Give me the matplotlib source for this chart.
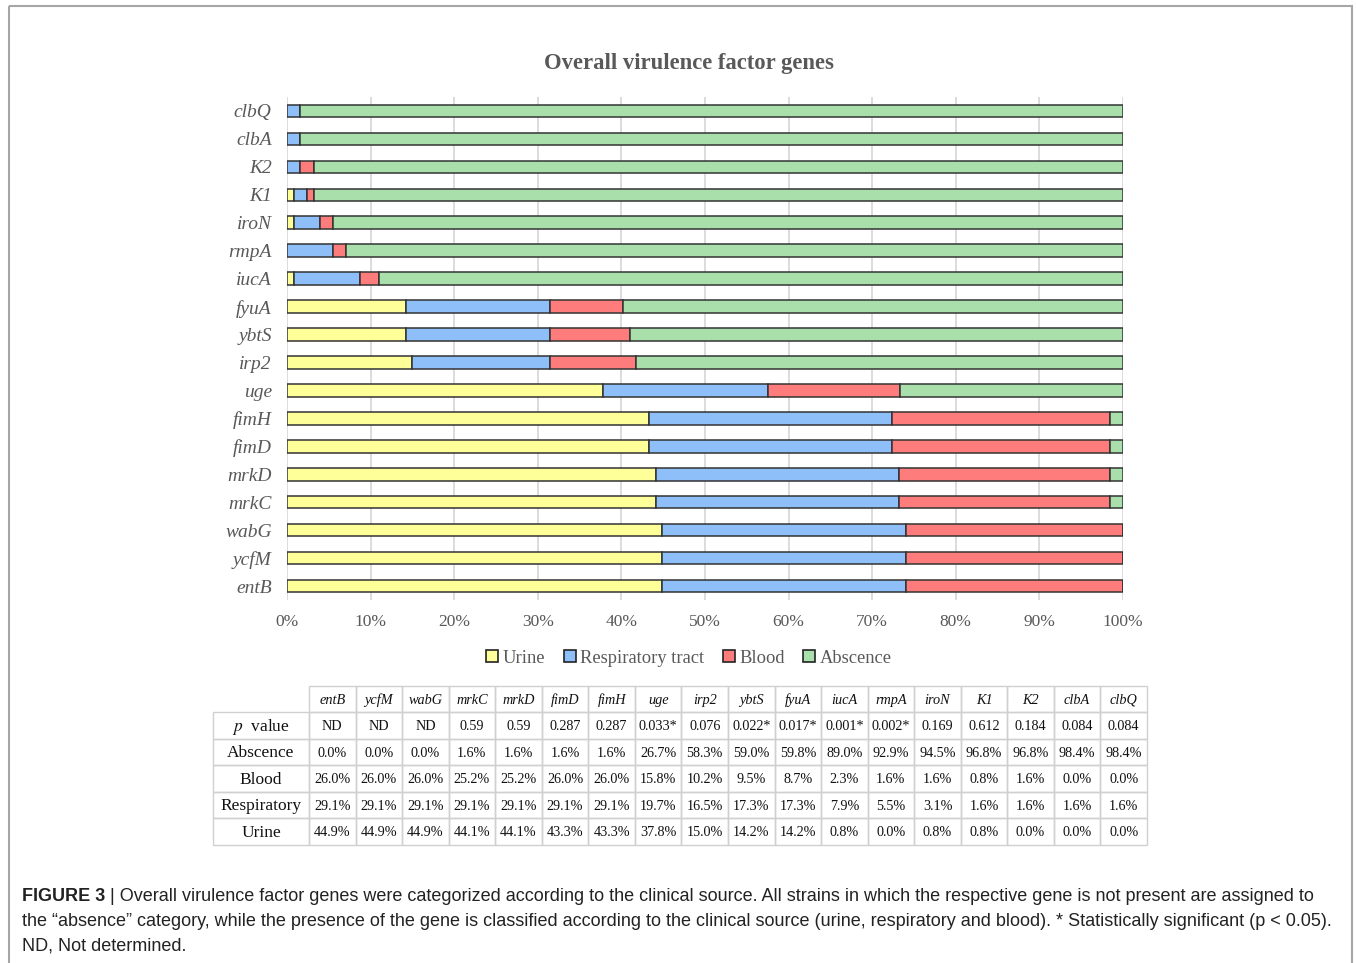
import matplotlib
matplotlib.use("Agg")
import matplotlib.pyplot as plt
from matplotlib.patches import Rectangle, Patch
import numpy as np

# ---------------- data ----------------
genes = ["entB", "ycfM", "wabG", "mrkC", "mrkD", "fimD", "fimH", "uge", "irp2",
         "ybtS", "fyuA", "iucA", "rmpA", "iroN", "K1", "K2", "clbA", "clbQ"]
p_values = ["ND", "ND", "ND", "0.59", "0.59", "0.287", "0.287", "0.033*", "0.076",
            "0.022*", "0.017*", "0.001*", "0.002*", "0.169", "0.612", "0.184", "0.084", "0.084"]
absence = [0.0, 0.0, 0.0, 1.6, 1.6, 1.6, 1.6, 26.7, 58.3, 59.0, 59.8, 89.0, 92.9, 94.5, 96.8, 96.8, 98.4, 98.4]
blood = [26.0, 26.0, 26.0, 25.2, 25.2, 26.0, 26.0, 15.8, 10.2, 9.5, 8.7, 2.3, 1.6, 1.6, 0.8, 1.6, 0.0, 0.0]
respiratory = [29.1, 29.1, 29.1, 29.1, 29.1, 29.1, 29.1, 19.7, 16.5, 17.3, 17.3, 7.9, 5.5, 3.1, 1.6, 1.6, 1.6, 1.6]
urine = [44.9, 44.9, 44.9, 44.1, 44.1, 43.3, 43.3, 37.8, 15.0, 14.2, 14.2, 0.8, 0.0, 0.8, 0.8, 0.0, 0.0, 0.0]

series_names = ["Urine", "Respiratory tract", "Blood", "Abscence"]
series_values = [urine, respiratory, blood, absence]
series_colors = ["#FFFF99", "#8FBFF9", "#FF7C7C", "#A9DFAB"]
row_labels = ["p value", "Abscence", "Blood", "Respiratory", "Urine"]
xticks = list(range(0, 101, 10))
title = "Overall virulence factor genes"

# ---------------- figure ----------------
W, H = 1356, 963
fig = plt.figure(figsize=(W / 100, H / 100), dpi=100)
plt.rcParams["mathtext.fontset"] = "stix"

serif = "Liberation Serif"
gray_txt = "#595959"

# overlay axes in pixel coordinates
ov = fig.add_axes([0, 0, 1, 1], zorder=-1)
ov.set_xlim(0, W)
ov.set_ylim(H, 0)
ov.axis("off")
ov.add_patch(Rectangle((8.5, 6.5), 1343, 990, fill=False, edgecolor="#A6A6A6", lw=1.5))

# bar chart axes
ax_left, ax_right = 287, 1123
ax_top, ax_bot = 97, 600
ax = fig.add_axes([ax_left / W, 1 - ax_bot / H, (ax_right - ax_left) / W, (ax_bot - ax_top) / H])
y = np.arange(len(genes))
left = np.zeros(len(genes))
for name, vals, col in zip(series_names, series_values, series_colors):
    vals = np.array(vals)
    ax.barh(y, vals, left=left, height=0.45, color=col, edgecolor="#333333", lw=1.1,
            label=name, zorder=3)
    left += vals
ax.set_xlim(0, 100)
ax.set_ylim(-0.5, len(genes) - 0.5)
ax.set_yticks(y)
ax.set_yticklabels(genes, fontfamily=serif, fontstyle="italic", fontsize=14, color=gray_txt)
ax.set_xticks(xticks)
ax.set_xticklabels([f"{t}%" for t in xticks], fontfamily=serif, fontsize=12.5, color=gray_txt)
ax.tick_params(length=0, pad=10)
ax.tick_params(axis="y", pad=11)
for s in ax.spines.values():
    s.set_visible(False)
ax.grid(axis="x", color="#D9D9D9", lw=1.3, zorder=0)
ax.set_axisbelow(True)

fig.text(689 / W, 1 - 63 / H, title, ha="center", va="center", fontfamily=serif,
         fontweight="bold", fontsize=16.3, color=gray_txt)

handles = [Patch(facecolor=c, edgecolor="#222222", lw=1.2, label=n) for n, c in zip(series_names, series_colors)]
fig.legend(handles=handles, loc="center", bbox_to_anchor=(689 / W, 1 - 658 / H), ncol=4,
           frameon=False, prop={"family": serif, "size": 13.3}, handlelength=0.65, handleheight=0.65,
           handletextpad=0.25, columnspacing=1.0, labelcolor=gray_txt)

# ---------------- table (drawn in pixel overlay) ----------------
t_left, t_right, t_top, t_bot = 213, 1147, 686, 845
lab_w = 96.0
col_w = (t_right - t_left - lab_w) / len(genes)
n_rows = 1 + len(row_labels)
row_h = (t_bot - t_top) / n_rows
cell_text = [p_values,
             [f"{v:.1f}%" for v in absence],
             [f"{v:.1f}%" for v in blood],
             [f"{v:.1f}%" for v in respiratory],
             [f"{v:.1f}%" for v in urine]]
edge = "#D0D0D0"
x0 = t_left + lab_w
# header row
for j, g in enumerate(genes):
    cx = x0 + j * col_w
    ov.add_patch(Rectangle((cx, t_top), col_w, row_h, fill=False, edgecolor=edge, lw=1.0))
    ov.text(cx + col_w / 2, t_top + row_h / 2 + 1, g, ha="center", va="center",
            fontfamily=serif, fontstyle="italic", fontsize=10.3, color="#111111")
for i, lab in enumerate(row_labels):
    ry = t_top + (i + 1) * row_h
    ov.add_patch(Rectangle((t_left, ry), lab_w, row_h, fill=False, edgecolor=edge, lw=1.0))
    if i == 0:
        txt = r"$\mathit{p}$  value"
    else:
        txt = lab
    ov.text(t_left + lab_w / 2, ry + row_h / 2 + 1, txt, ha="center", va="center",
            fontfamily=serif, fontsize=12.5, color="#111111")
    for j, val in enumerate(cell_text[i]):
        cx = x0 + j * col_w
        ov.add_patch(Rectangle((cx, ry), col_w, row_h, fill=False, edgecolor=edge, lw=1.0))
        ov.text(cx + col_w / 2, ry + row_h / 2 + 1, val, ha="center", va="center",
                fontfamily=serif, fontsize=10.2, color="#111111")

# ---------------- caption ----------------
sans = "Liberation Sans"
cap_fs = 13.0
cap_col = "#222222"
fig.canvas.draw()
renderer = fig.canvas.get_renderer()
t1 = fig.text(22 / W, 1 - 896 / H, "FIGURE 3", fontfamily=sans, fontweight="bold",
              fontsize=cap_fs, color=cap_col, va="center", ha="left")
bb = t1.get_window_extent(renderer)
fig.text(bb.x1 / W, 1 - 896 / H,
         " | Overall virulence factor genes were categorized according to the clinical source. "
         "All strains in which the respective gene is not present are assigned to",
         fontfamily=sans, fontsize=cap_fs, color=cap_col, va="center", ha="left")
fig.text(22 / W, 1 - 921 / H,
         "the \u201cabsence\u201d category, while the presence of the gene is classified according to the "
         "clinical source (urine, respiratory and blood). * Statistically significant (p < 0.05).",
         fontfamily=sans, fontsize=cap_fs, color=cap_col, va="center", ha="left")
fig.text(22 / W, 1 - 946 / H, "ND, Not determined.",
         fontfamily=sans, fontsize=cap_fs, color=cap_col, va="center", ha="left")

fig.savefig("out.png", dpi=100)
